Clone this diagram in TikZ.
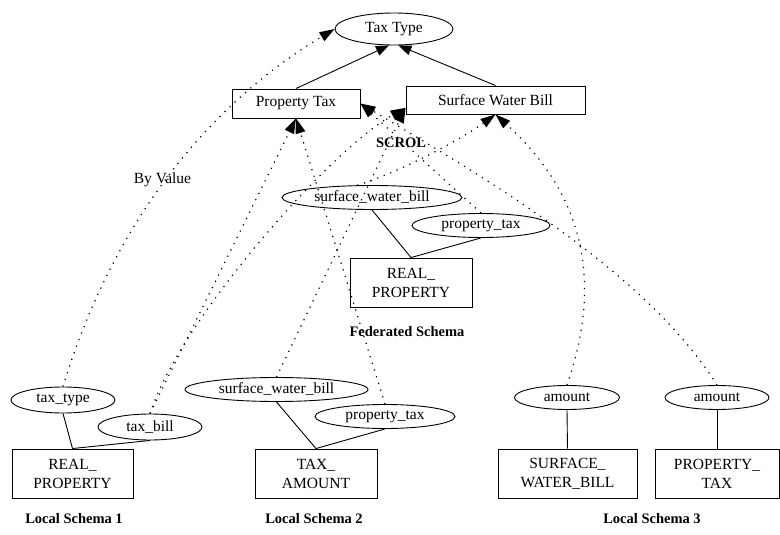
\documentclass[tikz,border=0pt]{standalone}
\usepackage{fontspec}
\setmainfont{Liberation Serif}
\usetikzlibrary{shapes.geometric,arrows.meta}

\begin{document}
\begin{tikzpicture}[x=1pt,y=-1pt,
  every node/.style={font=\fontsize{15.5}{19}\selectfont, inner sep=0pt},
  concept/.style={draw, line width=0.9pt, ellipse, minimum height=32pt},
  entity/.style={draw, line width=0.9pt, rectangle, align=center},
  attr/.style={draw, line width=0.9pt, ellipse, minimum height=24pt},
  caption/.style={font=\fontsize{14.5}{17}\selectfont\bfseries},
  link/.style={line width=0.9pt},
  isa/.style={line width=0.9pt, -{Triangle[length=13pt,width=10pt]}},
  maps/.style={line width=1.2pt, dash pattern=on 1.2pt off 5.8pt,
               -{Triangle[length=15pt,width=10pt]}},
]
\useasboundingbox (0,0) rectangle (780,535);

% ---- SCROL ontology ----
\node[concept, minimum width=118pt] (tt) at (394,29) {Tax Type};
\node[entity, minimum width=128pt, minimum height=29pt] (pt) at (296,103.5) {Property Tax};
\node[entity, minimum width=179pt, minimum height=28pt] (swb) at (495.5,100) {Surface Water Bill};
\node[caption] (scrol) at (401,143) {SCROL};

% ---- federated schema ----
\node[attr, minimum width=180pt] (fswb) at (372,197.5) {surface\_water\_bill};
\node[attr, minimum width=138pt] (fpt) at (481,225.5) {property\_tax};
\node[entity, minimum width=122pt, minimum height=49pt] (freal) at (411,282.5) {REAL\_\\PROPERTY};
\node[caption] (fedlabel) at (407,332) {Federated Schema};

% ---- local schema 1 ----
\node[attr, minimum width=104pt, minimum height=26pt] (ttype) at (63,400) {tax\_type};
\node[attr, minimum width=104pt, minimum height=26pt] (tbill) at (150,427) {tax\_bill};
\node[entity, minimum width=121pt, minimum height=49pt] (lreal) at (72.5,473.5) {REAL\_\\PROPERTY};
\node[caption] (ls1) at (74,519) {Local Schema 1};

% ---- local schema 2 ----
\node[attr, minimum width=183pt] (lswb) at (276.5,389.5) {surface\_water\_bill};
\node[attr, minimum width=140pt] (lpt) at (385,416.5) {property\_tax};
\node[entity, minimum width=122pt, minimum height=49pt] (tamt) at (316,473.5) {TAX\_\\AMOUNT};
\node[caption] (ls2) at (314,519) {Local Schema 2};

% ---- local schema 3 ----
\node[attr, minimum width=105pt] (amt1) at (567,397.5) {amount};
\node[attr, minimum width=104pt] (amt2) at (717,397.5) {amount};
\node[entity, minimum width=139pt, minimum height=49pt] (lswbt) at (567.5,473.5) {SURFACE\_\\WATER\_BILL};
\node[entity, minimum width=124pt, minimum height=49pt] (lptt) at (717,473.5) {PROPERTY\_\\TAX};
\node[caption] (ls3) at (652,519) {Local Schema 3};

% ---- generalisation inside SCROL ----
\draw[isa] (pt.north) -- (tt.-107);
\draw[isa] (swb.north) -- (tt.-75);

% ---- attribute links ----
\draw[link] (fswb.south) -- (freal.north);
\draw[link] (fpt.south) -- (freal.north);
\draw[link] (ttype.south) -- (lreal.north);
\draw[link] (tbill.south) -- (lreal.north);
\draw[link] (lswb.south) -- (tamt.north);
\draw[link] (lpt.south) -- (tamt.north);
\draw[link] (amt1.south) -- (lswbt.north);
\draw[link] (amt2.south) -- (lptt.north);

% ---- semantic mappings ----
\draw[maps] (ttype.north) .. controls (110,232) and (200,110) ..
  node[pos=0.5, xshift=-3.5pt] {By Value} (tt.west);
\draw[maps] (tbill.north) -- (pt.south);
\draw[maps] (tbill.north) .. controls (180,320) and (330,150) .. (swb.-175);
\draw[maps] (lswb.north) -- (swb.-175);
\draw[maps] (fswb.140) .. controls (400,172) and (460,140) .. (swb.south);
\draw[maps] (fpt.north) -- (pt.east);
\draw[maps] (lpt.north) -- (pt.south);
\draw[maps] (amt1.north) .. controls (600,290) and (590,200) .. (swb.south);
\draw[maps] (amt2.north) .. controls (645,270) and (480,175) .. (pt.east);
\end{tikzpicture}
\end{document}
